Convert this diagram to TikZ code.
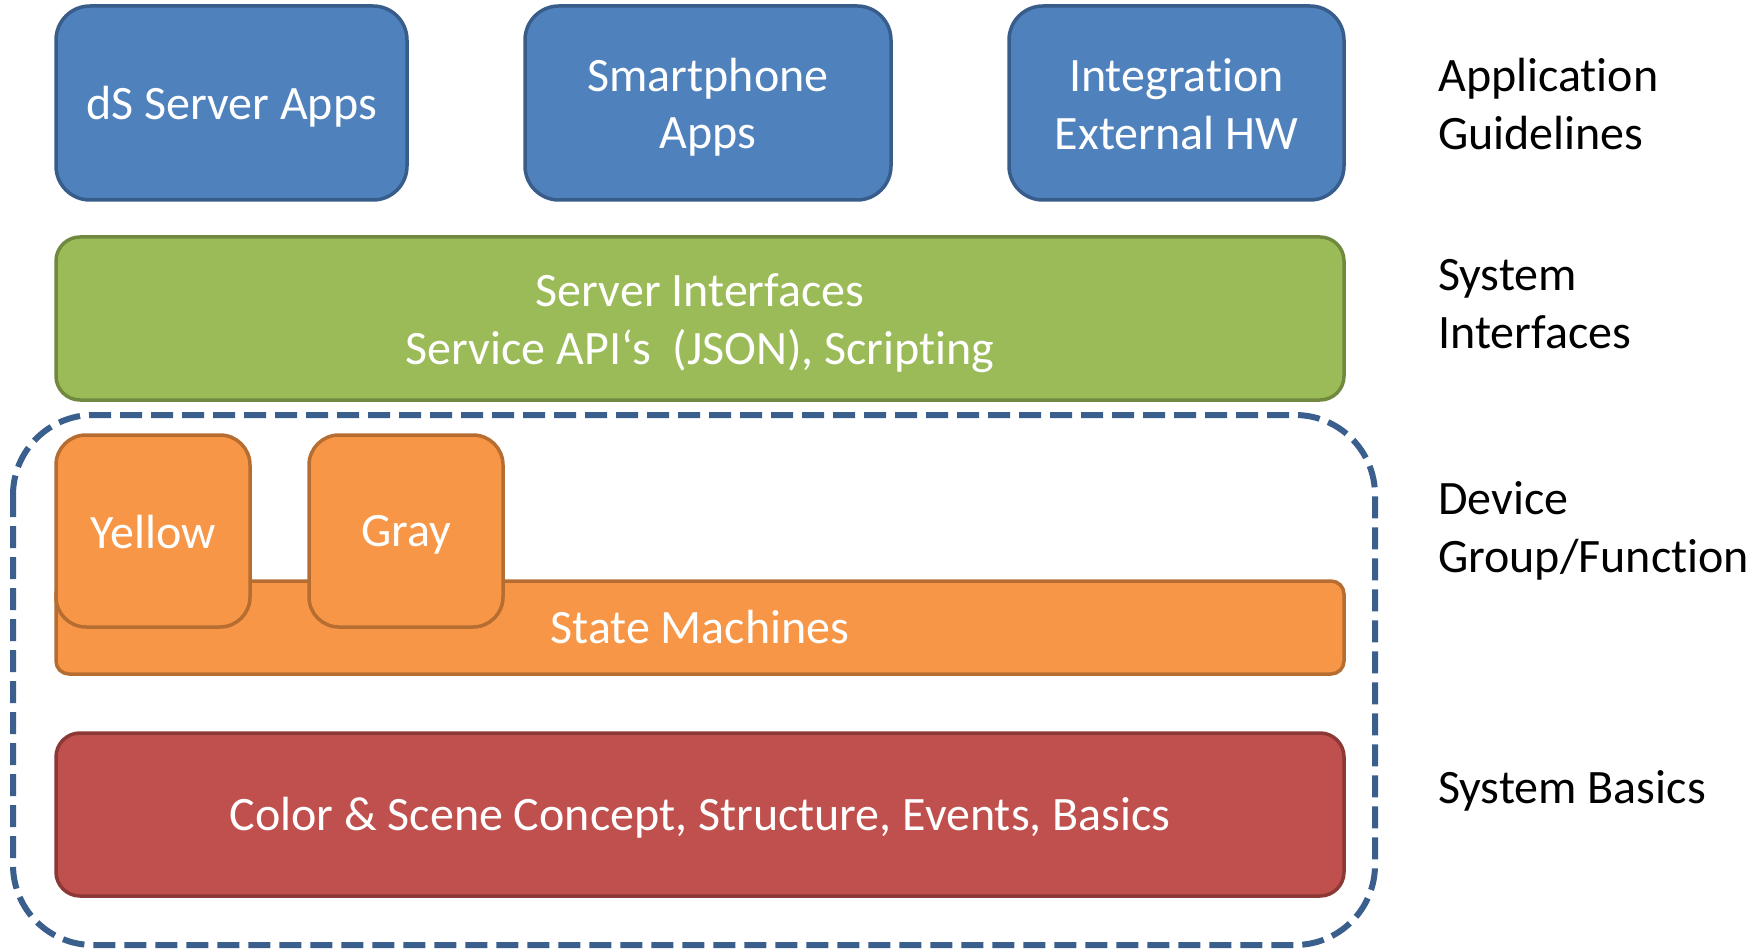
\documentclass[tikz,border=0pt]{standalone}
\usepackage{fontspec}
\setmainfont{Carlito}[RawFeature={-liga;-clig;-calt;-dlig}]
\definecolor{bluefill}{HTML}{4F81BD}
\definecolor{blueline}{HTML}{385D8A}
\definecolor{greenfill}{HTML}{9BBB59}
\definecolor{greenline}{HTML}{71893F}
\definecolor{orangefill}{HTML}{F79646}
\definecolor{orangeline}{HTML}{B66D31}
\definecolor{redfill}{HTML}{C0504D}
\definecolor{redline}{HTML}{8C3836}
\definecolor{dashblue}{HTML}{3A5F8D}
\tikzset{
  boxbase/.style={line width=3.5pt, font=\fontsize{48}{57.5}\selectfont, text=white, align=center, inner sep=0pt},
  bluebox/.style={boxbase, fill=bluefill, draw=blueline, rounded corners=34pt},
  greenbox/.style={boxbase, fill=greenfill, draw=greenline, rounded corners=24pt},
  orangebox/.style={boxbase, fill=orangefill, draw=orangeline, rounded corners=30pt},
  orangebar/.style={boxbase, fill=orangefill, draw=orangeline, rounded corners=13pt},
  redbox/.style={boxbase, fill=redfill, draw=redline, rounded corners=24pt},
  container/.style={draw=dashblue, line width=6pt, dash pattern=on 22pt off 9pt, rounded corners=80pt},
  sidelabel/.style={font=\fontsize{48}{57.5}\selectfont, text=black, align=left, anchor=west, inner sep=0pt}
}
\begin{document}
\begin{tikzpicture}[x=1pt,y=-1pt]
\useasboundingbox (0,0) rectangle (1764,949);
% top row
\draw[bluebox] (56,6) rectangle (407,200);
\node[boxbase] (b1) at (231.5,107) {dS Server Apps};
\draw[bluebox] (525,6) rectangle (891,200);
\node[boxbase] (b2) at (708,107) {Smartphone\\Apps};
\draw[bluebox] (1009,6) rectangle (1344,200);
\node[boxbase] (b3) at (1176.5,104) {Integration\\External HW};
% green
\draw[greenbox] (56,237) rectangle (1344,400);
\node[boxbase] (g) at (700,323) {Server Interfaces\\Service API‘s\ \ (JSON), Scripting};
% dashed container
\draw[container] (13,415) rectangle (1375,945);
% state machines
\draw[orangebar] (56,581) rectangle (1344,674);
\node[boxbase] (sm) at (700,627) {State Machines};
\draw[orangebox] (56,435) rectangle (250,627);
\node[boxbase] (y) at (153,532) {Yellow};
\draw[orangebox] (309,435) rectangle (503,627);
\node[boxbase] (gr) at (406,535) {Gray};
% red
\draw[redbox] (56,733) rectangle (1344,896);
\node[boxbase] (r) at (700,818) {Color \& Scene Concept, Structure, Events, Basics};
% side labels
\node[sidelabel] (l1) at (1438,104) {Application\\Guidelines};
\node[sidelabel] (l2) at (1438,304) {System\\Interfaces};
\node[sidelabel] (l3) at (1438,531) {Device\\Group/Function};
\node[sidelabel] (l4) at (1438,791) {System Basics};
\end{tikzpicture}
\end{document}
